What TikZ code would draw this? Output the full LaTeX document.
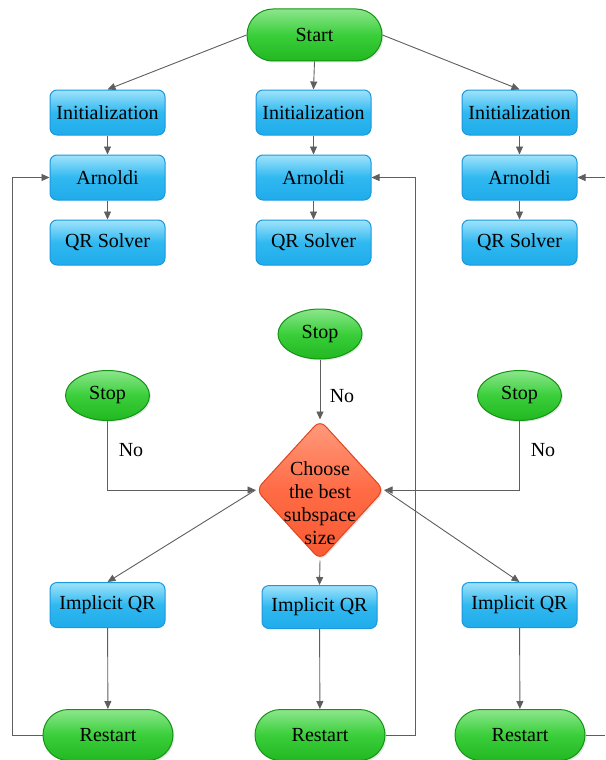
\documentclass[tikz,border=0pt]{standalone}
\usepackage{fontspec}
\setmainfont{Liberation Serif}
\usetikzlibrary{shapes.misc,shapes.geometric,arrows.meta,shadows}

\definecolor{boxtop}{HTML}{9FE3FB}
\definecolor{boxmid}{HTML}{30B8F0}
\definecolor{boxbot}{HTML}{1FACEB}
\definecolor{boxline}{HTML}{1A98E0}
\definecolor{greentop}{HTML}{8CE68C}
\definecolor{greenmid}{HTML}{3ACF3A}
\definecolor{greenbot}{HTML}{22B822}
\definecolor{greenline}{HTML}{149414}
\definecolor{redtop}{HTML}{FF9C7E}
\definecolor{redmid}{HTML}{FF6B45}
\definecolor{redbot}{HTML}{F85A32}
\definecolor{redline}{HTML}{E0461F}
\definecolor{wire}{HTML}{5E5E5E}

\tikzset{
  every node/.style={font=\fontsize{20}{23}\selectfont, text=black},
  procbox/.style={rectangle, rounded corners=7pt, draw=boxline, line width=1pt,
    top color=boxtop, bottom color=boxbot, middle color=boxmid,
    minimum width=115pt, minimum height=45pt, inner sep=0pt},
  terminal/.style={rounded rectangle, draw=greenline, line width=1pt,
    top color=greentop, bottom color=greenbot, middle color=greenmid,
    minimum width=130pt, minimum height=51pt, inner sep=0pt,
    drop shadow={opacity=0.2, shadow xshift=1.5pt, shadow yshift=-1.5pt}},
  stopnode/.style={ellipse, draw=greenline, line width=1pt,
    top color=greentop, bottom color=greenbot, middle color=greenmid,
    minimum width=84pt, minimum height=50pt, inner sep=0pt,
    drop shadow={opacity=0.2, shadow xshift=1.5pt, shadow yshift=-1.5pt}},
  choice/.style={diamond, rounded corners=8pt, draw=redline, line width=1pt,
    top color=redtop, bottom color=redbot, middle color=redmid,
    minimum width=128pt, minimum height=140pt, inner sep=0pt,
    drop shadow={opacity=0.2, shadow xshift=1.5pt, shadow yshift=-1.5pt}},
  flow/.style={draw=wire, line width=0.9pt, -{Triangle[length=8pt,width=7pt]}},
  plain/.style={draw=wire, line width=0.9pt},
}

\begin{document}
\begin{tikzpicture}[x=1pt,y=-1pt]
\useasboundingbox (0,0) rectangle (605,760);

% top row
\node[terminal, minimum width=135pt, minimum height=52pt] (start) at (314.5,35) {Start};

\node[procbox] (init1) at (107.5,112.5) {Initialization};
\node[procbox] (init2) at (313.5,112.5) {Initialization};
\node[procbox] (init3) at (519.5,112.5) {Initialization};

\node[procbox] (arn1) at (107.5,177.5) {Arnoldi};
\node[procbox] (arn2) at (313.5,177.5) {Arnoldi};
\node[procbox] (arn3) at (519.5,177.5) {Arnoldi};

\node[procbox] (qr1) at (107.5,242.5) {QR Solver};
\node[procbox] (qr2) at (313.5,242.5) {QR Solver};
\node[procbox] (qr3) at (519.5,242.5) {QR Solver};

% decision part
\node[stopnode] (stop2) at (320,334) {Stop};
\node[stopnode] (stop1) at (107.5,395.5) {Stop};
\node[stopnode] (stop3) at (519.5,395.5) {Stop};

\node[choice] (best) at (320,490) {};
\node[align=center, inner sep=0pt] (besttext) at (320,503) {Choose\\the best\\subspace\\size};

\node[procbox] (iqr1) at (107.5,605) {Implicit QR};
\node[procbox, minimum height=43pt] (iqr2) at (319.5,607) {Implicit QR};
\node[procbox] (iqr3) at (519.5,605) {Implicit QR};

\node[terminal] (rst1) at (108,735) {Restart};
\node[terminal] (rst2) at (320,735) {Restart};
\node[terminal] (rst3) at (520,735) {Restart};

% loose ends leaving the right edge
\coordinate (outA) at (605,177.5);
\coordinate (outB) at (605,735);

% start fan-out
\draw[flow] (start.west) -- (init1.north);
\draw[flow] (start.south) -- (init2.north);
\draw[flow] (start.east) -- (init3.north);

% column chains
\draw[flow] (init1) -- (arn1);
\draw[flow] (arn1) -- (qr1);
\draw[flow] (init2) -- (arn2);
\draw[flow] (arn2) -- (qr2);
\draw[flow] (init3) -- (arn3);
\draw[flow] (arn3) -- (qr3);

% stop tests
\draw[flow] (stop2.south) -- (best.north);
\node (no2) at (342,396) {No};
\draw[flow] (stop1.south) -- (107.5,490) -- (best.west);
\node (no1) at (131,450) {No};
\draw[flow] (stop3.south) -- (519.5,490) -- (best.east);
\node (no3) at (543,450) {No};

% decision outputs
\draw[flow] (best.west) -- (iqr1.north);
\draw[flow] (best.south) -- (iqr2.north);
\draw[flow] (best.east) -- (iqr3.north);

% implicit QR to restart
\draw[flow] (iqr1) -- (rst1);
\draw[flow] (iqr2) -- (rst2);
\draw[flow] (iqr3) -- (rst3);

% restart loops
\draw[flow] (rst1.west) -- (12,735) -- (12,177.5) -- (arn1.west);
\draw[flow] (rst2.east) -- (415,735) -- (415,177.5) -- (arn2.east);
\draw[plain] (rst3.east) -- (outB);
\draw[flow] (outA) -- (arn3.east);
\end{tikzpicture}
\end{document}
